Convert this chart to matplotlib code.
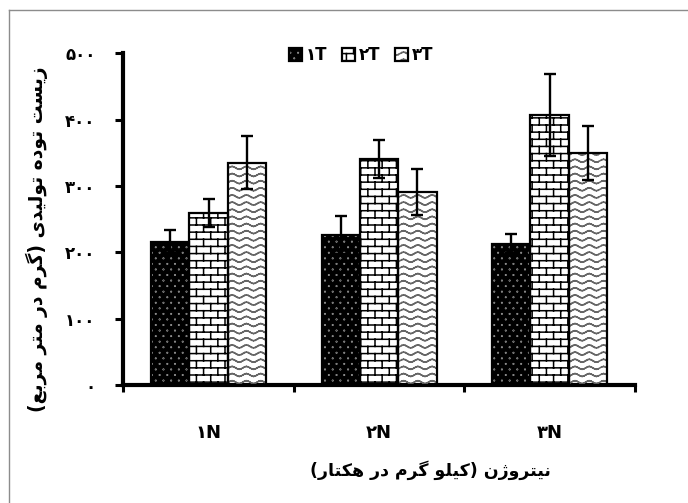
import warnings
import numpy as np
import matplotlib
matplotlib.use('Agg')
import matplotlib.pyplot as plt
from matplotlib import hatch as mhatch
from matplotlib.path import Path
from matplotlib.lines import Line2D

warnings.filterwarnings('ignore')

# داده ها (خوانده شده از تصویر)
groups = ['N۱', 'N۲', 'N۳']
series = ['T۱', 'T۲', 'T۳']
t1 = [216, 226, 213]
t2 = [259, 341, 407]
t3 = [335, 291, 350]
t1_err = [17, 29, 14]
t2_err = [21, 29, 62]
t3_err = [40, 35, 41]
yticks = [0, 100, 200, 300, 400, 500]
xlabel = 'نیتروژن (کیلو گرم در هکتار)'
ylabel = 'زیست توده تولیدی (گرم در متر مربع)'

# --- shaping ساده برای متن فارسی (matplotlib خودش انجام نمی دهد)
FORMS = {
    'ا': ('\uFE8D', '\uFE8E'), 'د': ('\uFEA9', '\uFEAA'), 'ر': ('\uFEAD', '\uFEAE'),
    'ز': ('\uFEAF', '\uFEB0'), 'ژ': ('\uFB8A', '\uFB8B'), 'و': ('\uFEED', '\uFEEE'),
    'ب': ('\uFE8F', '\uFE90', '\uFE91', '\uFE92'), 'ت': ('\uFE95', '\uFE96', '\uFE97', '\uFE98'),
    'س': ('\uFEB1', '\uFEB2', '\uFEB3', '\uFEB4'), 'ع': ('\uFEC9', '\uFECA', '\uFECB', '\uFECC'),
    'ک': ('\uFB8E', '\uFB8F', '\uFB90', '\uFB91'), 'گ': ('\uFB92', '\uFB93', '\uFB94', '\uFB95'),
    'ل': ('\uFEDD', '\uFEDE', '\uFEDF', '\uFEE0'), 'م': ('\uFEE1', '\uFEE2', '\uFEE3', '\uFEE4'),
    'ن': ('\uFEE5', '\uFEE6', '\uFEE7', '\uFEE8'), 'ه': ('\uFEE9', '\uFEEA', '\uFEEB', '\uFEEC'),
    'ی': ('\uFBFC', '\uFBFD', '\uFBFE', '\uFBFF'),
}


def fa(text):
    out = []
    for i, c in enumerate(text):
        if c not in FORMS:
            out.append(c)
            continue
        f = FORMS[c]
        prev = text[i - 1] if i > 0 else ''
        nxt = text[i + 1] if i + 1 < len(text) else ''
        jp = prev in FORMS and len(FORMS[prev]) == 4
        jn = nxt in FORMS and len(f) == 4
        if jp and jn:
            g = f[3]
        elif jp:
            g = f[1]
        elif jn:
            g = f[2]
        else:
            g = f[0]
        out.append(g)
    return ''.join(out)[::-1].translate(str.maketrans('()', ')('))


def fa_num(n):
    return str(n).translate(str.maketrans('0123456789', '۰۱۲۳۴۵۶۷۸۹'))


# --- هچ های سفارشی: آجر، موج، نقطه
class CustomHatch(mhatch.HatchPatternBase):
    key = None

    def __init__(self, hatch, density):
        if self.key in hatch:
            self.verts, self.cds = self.build()
            self.num_vertices = len(self.verts)
        else:
            self.num_vertices = 0

    def set_vertices_and_codes(self, vertices, codes):
        vertices[:] = self.verts
        codes[:] = self.cds


def seg_path(segs):
    v = np.asarray(segs, float).reshape(-1, 2)
    c = np.tile([Path.MOVETO, Path.LINETO], len(segs))
    return v, c


class BrickHatch(CustomHatch):
    key = 'b'

    def build(self):
        rows, cols = 14, 7
        segs = []
        for r in range(rows):
            y = (r + 0.5) / rows
            segs.append(((0, y), (1, y)))
            off = 0.25 if r % 2 else 0.75
            for c in range(cols):
                x = (c + off) / cols
                segs.append(((x, y), (x, y + 1 / rows)))
                if y + 1 / rows > 1:
                    segs.append(((x, y - 1), (x, y + 1 / rows - 1)))
        return seg_path(segs)


class WaveHatch(CustomHatch):
    key = 'w'

    def build(self):
        rows, waves, n = 14, 7, 8
        segs = []
        xs = np.linspace(0, 1, waves * n + 1)
        for r in range(rows):
            ys = (r + 0.5) / rows + 0.014 * np.sin(2 * np.pi * waves * xs)
            for i in range(len(xs) - 1):
                segs.append(((xs[i], ys[i]), (xs[i + 1], ys[i + 1])))
        return seg_path(segs)


class DotHatch(CustomHatch):
    key = 'd'

    def build(self):
        rows, cols, rad = 18, 13, 0.002
        ang = np.linspace(0, 2 * np.pi, 7)[:-1]
        verts, cds = [], []
        for i in range(rows):
            y = (i + 0.5) / rows
            off = 0.25 if i % 2 else 0.75
            for j in range(cols):
                x = (j + off) / cols
                for a in ang:
                    verts.append((x + rad * np.cos(a), y + rad * np.sin(a)))
                verts.append((x, y))
                cds += [Path.MOVETO] + [Path.LINETO] * 5 + [Path.CLOSEPOLY]
        return np.array(verts), np.array(cds, dtype=Path.code_type)


mhatch._hatch_types += [BrickHatch, WaveHatch, DotHatch]

plt.rcParams['font.family'] = ['DejaVu Sans']
plt.rcParams['font.weight'] = 'bold'
plt.rcParams['hatch.linewidth'] = 1.1

fig = plt.figure(figsize=(6.88, 5.03), dpi=100)
ax = fig.add_axes([0.1792, 0.2346, 0.7437, 0.6594])

x = np.arange(len(groups))
w = 0.225
values = [t1, t2, t3]
errors = [t1_err, t2_err, t3_err]
styles = [('black', '#d8d8d8', 'd'), ('white', 'black', 'b'), ('white', '#666666', 'w')]

handles = []
for k in range(3):
    pos = x + (k - 1) * w
    face, hcol, hp = styles[k]
    base = ax.bar(pos, values[k], w, color=face, linewidth=0, zorder=2)
    tex = ax.bar(pos, values[k], w, facecolor='none', edgecolor=hcol, hatch=hp,
                 linewidth=0, zorder=3)
    edge = ax.bar(pos, values[k], w, facecolor='none', edgecolor='black',
                  linewidth=1.6, zorder=4)
    ax.errorbar(pos, values[k], yerr=errors[k], fmt='none', ecolor='black',
                elinewidth=1.7, capsize=4, capthick=1.7, zorder=5)
    handles.append((base[0], tex[0], edge[0]))

ax.set_xlim(-0.5, 2.5)
ax.set_ylim(0, 500)
for s in ['top', 'right']:
    ax.spines[s].set_visible(False)
for s in ['left', 'bottom']:
    ax.spines[s].set_linewidth(3)

ax.set_yticks(yticks)
ax.set_yticklabels([fa_num(v) for v in yticks], fontsize=12, fontweight='bold')
ax.tick_params(axis='y', length=6, width=2.2, pad=14)

ax.set_xticks([-0.5, 0.5, 1.5, 2.5])
ax.set_xticklabels([])
ax.tick_params(axis='x', which='major', length=5, width=2.2)
ax.set_xticks(x, [fa(g) for g in groups], minor=True)
ax.tick_params(axis='x', which='minor', length=0, pad=28, labelsize=13)

fig.text(37 / 688, 1 - 239 / 503, fa(ylabel), rotation=90, ha='center', va='center',
         fontsize=13.5, fontweight='bold')
fig.text(430 / 688, 1 - 470 / 503, fa(xlabel), ha='center', va='center',
         fontsize=12.5, fontweight='bold')

ax.legend(handles, [fa(s) for s in series], loc='center', ncol=3, frameon=False,
          bbox_to_anchor=(361 / 688, 1 - 55 / 503), bbox_transform=fig.transFigure,
          handlelength=0.8, handleheight=0.8, handletextpad=0.2,
          columnspacing=0.9, prop={'weight': 'bold', 'size': 12})

# قاب خاکستری دور نمودار (فقط چپ و بالا دیده می شود)
fig.add_artist(Line2D([9 / 688, 9 / 688], [0, 1 - 10 / 503], color='#8c8c8c', lw=1,
                      transform=fig.transFigure))
fig.add_artist(Line2D([9 / 688, 1], [1 - 10 / 503, 1 - 10 / 503], color='#8c8c8c', lw=1,
                      transform=fig.transFigure))

fig.savefig('out.png', dpi=100)
